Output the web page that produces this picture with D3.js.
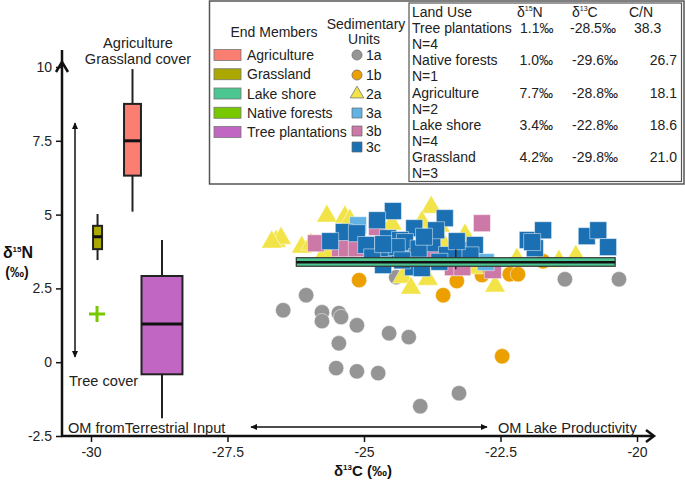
<!DOCTYPE html>
<html><head><meta charset="utf-8">
<script src="https://cdn.jsdelivr.net/npm/d3@7"></script>
<style>body{margin:0;background:#fff} text{font-family:"Liberation Sans",Arial,sans-serif}</style>
</head><body><svg id="c" width="685" height="483"></svg>
<script>
// ---------- DATA ----------
const xTicks = [-30, -27.5, -25, -22.5, -20];
const yTicks = [-2.5, 0, 2.5, 5, 7.5, 10];

// sedimentary units: [δ13C, δ15N]
const unit1a = [[-26.06,2.27],[-26.48,1.76],[-25.77,1.69],[-25.77,1.39],[-25.46,1.66],[-25.42,1.53],[-25.13,1.25],[-24.54,0.98],[-24.18,0.85],[-25.46,0.64],[-25.51,-0.20],[-25.13,-0.31],[-24.74,-0.37],[-23.26,-1.05],[-23.97,-1.49],[-24.41,2.88],[-21.32,2.81],[-20.33,2.81]];
const unit1b = [[-25.09,2.78],[-23.55,2.27],[-23.30,2.75],[-22.84,2.95],[-22.33,2.98],[-22.18,2.98],[-21.72,3.42],[-22.47,0.20],[-23.39,3.19]];
const unit2a = [[-25.68,4.95],[-25.35,4.92],[-26.61,4.10],[-26.52,4.20],[-26.69,4.07],[-26.14,3.90],[-25.97,4.00],[-25.71,3.73],[-25.26,4.81],[-24.49,4.68],[-23.77,5.25],[-23.94,4.75],[-23.61,4.61],[-23.15,4.31],[-23.53,3.97],[-22.91,3.46],[-23.00,3.19],[-24.29,2.88],[-24.14,2.51],[-23.83,2.81],[-22.60,2.58],[-22.20,3.49],[-21.43,3.42],[-21.12,3.59],[-24.16,3.63]];
const unit3a = [[-25.11,4.64],[-24.84,3.97],[-24.21,3.63],[-22.77,3.39]];
const unit3b = [[-25.88,4.03],[-25.44,3.86],[-25.31,3.86],[-24.76,4.58],[-24.84,3.86],[-25.13,3.86],[-22.84,4.71],[-22.64,3.12],[-23.37,3.22],[-23.20,3.22],[-23.74,3.73]];
const unit3c = [[-24.47,5.12],[-24.76,4.81],[-23.52,4.88],[-24.08,4.54],[-25.37,4.41],[-25.62,4.10],[-25.13,4.37],[-24.56,4.20],[-24.34,4.14],[-24.25,4.07],[-23.75,4.03],[-23.19,3.80],[-22.97,3.97],[-24.58,3.56],[-24.03,3.56],[-23.48,3.63],[-24.10,3.22],[-24.65,3.29],[-22.00,4.14],[-21.72,4.47],[-21.87,3.86],[-20.92,4.27],[-20.71,4.47],[-20.53,3.90],[-23.94,3.19],[-24.96,3.97],[-21.92,4.07],[-23.68,4.47],[-24.40,3.90],[-24.00,3.85],[-23.90,4.25],[-24.85,3.55],[-23.62,3.40],[-24.30,3.45],[-23.05,3.62],[-24.65,4.00],[-23.30,4.10]];

// end members
const endMembers = ["Agriculture","Grassland","Lake shore","Native forests","Tree plantations"];
const boxNames  = ["Agriculture","Grassland","Tree plantations","Lake shore"];
const boxCenter = [-29.24, -29.88, -28.70, -23.32];
const boxMin    = [5.10, 3.46, -1.90, 3.15];
const boxQ1     = [6.32, 3.83, -0.41, 3.25];
const boxMedian = [7.50, 4.25, 1.29, 3.39];
const boxQ3     = [8.75, 4.62, 2.92, 3.54];
const boxMax    = [9.93, 5.02, 4.14, 3.82];
const nativeForest = [[-29.89, 1.63]];

// table
const tableHeader = ["Land Use", "δ15N", "δ13C", "C/N"];
const landUse = ["Tree plantations","Native forests","Agriculture","Lake shore","Grassland"];
const tabN15  = ["1.1‰","1.0‰","7.7‰","3.4‰","4.2‰"];
const tabC13  = ["-28.5‰","-29.6‰","-28.8‰","-22.8‰","-29.8‰"];
const tabCN   = ["38.3","26.7","18.1","18.6","21.0"];
const tabN    = [4, 1, 2, 4, 3];
const unitNames = ["1a","1b","2a","3a","3b","3c"];

// ---------- STYLE ----------
const emColor = {"Agriculture":"#FA7F72","Grassland":"#ABA800","Lake shore":"#4CC690","Native forests":"#78C800","Tree plantations":"#C266C4"};
const boxWidth = {"Agriculture":0.31,"Grassland":0.165,"Tree plantations":0.75,"Lake shore":5.84};
const unitStyle = {
  "1a":{c:"#959595",s:"circle"}, "1b":{c:"#EBA000",s:"circle"}, "2a":{c:"#F2E448",s:"triangle"},
  "3a":{c:"#62B3E3",s:"square"}, "3b":{c:"#CC79A7",s:"square"}, "3c":{c:"#1A70B2",s:"square"}
};
const symSize = {circle:186, triangle:185, square:289};
const symType = {circle:d3.symbolCircle, triangle:d3.symbolTriangle, square:d3.symbolSquare};

const svg = d3.select("#c");
const x = d3.scaleLinear().domain([-30,-20]).range([91,637]);
const y = d3.scaleLinear().domain([-2.5,10]).range([436,67]);
const axisX0 = 62;

// defs arrow markers
const defs = svg.append("defs");
defs.append("marker").attr("id","ah").attr("viewBox","0 0 10 10").attr("refX",9).attr("refY",5)
  .attr("markerWidth",7).attr("markerHeight",7).attr("orient","auto-start-reverse").attr("markerUnits","userSpaceOnUse")
  .append("path").attr("d","M0,0.5L10,5L0,9.5z").attr("fill","#111");

// ---------- AXES ----------
const gx = svg.append("g").attr("transform",`translate(0,${y(-2.5)})`)
  .call(d3.axisBottom(x).tickValues(xTicks).tickSize(6).tickPadding(5).tickFormat(d=>String(d)));
gx.select(".domain").remove();
gx.selectAll(".tick line").attr("stroke","#111").attr("stroke-width",1.5);
gx.selectAll(".tick text").attr("font-size",14).attr("fill","#222").attr("font-family","Liberation Sans, Arial, sans-serif");

const gy = svg.append("g").attr("transform",`translate(${axisX0},0)`)
  .call(d3.axisLeft(y).tickValues(yTicks).tickSize(6).tickPadding(4).tickFormat(d=>String(d)));
gy.select(".domain").remove();
gy.selectAll(".tick line").attr("stroke","#111").attr("stroke-width",1.5);
gy.selectAll(".tick text").attr("font-size",14).attr("fill","#222").attr("font-family","Liberation Sans, Arial, sans-serif");

// axis lines with arrows
svg.append("line").attr("x1",axisX0).attr("x2",axisX0).attr("y1",y(-2.5)+1).attr("y2",50)
  .attr("stroke","#111").attr("stroke-width",2.5);
svg.append("path").attr("d",`M${axisX0-6},${y(10)+5}L${axisX0},${y(10)-5}L${axisX0+6},${y(10)+5}`)
  .attr("fill","none").attr("stroke","#111").attr("stroke-width",2.5);
svg.append("line").attr("x1",axisX0-1).attr("x2",653).attr("y1",y(-2.5)).attr("y2",y(-2.5))
  .attr("stroke","#111").attr("stroke-width",2.5);
svg.append("path").attr("d",`M646,${y(-2.5)-6}L654,${y(-2.5)}L646,${y(-2.5)+6}`)
  .attr("fill","none").attr("stroke","#111").attr("stroke-width",2.5);

// axis titles
const t1 = svg.append("text").attr("x",363).attr("y",476).attr("text-anchor","middle").attr("font-size",15).attr("font-weight","bold").attr("fill","#111");
t1.append("tspan").text("δ");
t1.append("tspan").text("13").attr("font-size",8).attr("dy",-6);
t1.append("tspan").text("C (‰)").attr("dy",6);
const t2 = svg.append("text").attr("x",18).attr("y",258).attr("text-anchor","middle").attr("font-size",16).attr("font-weight","bold").attr("fill","#111");
t2.append("tspan").text("δ");
t2.append("tspan").text("15").attr("font-size",8).attr("dy",-6);
t2.append("tspan").text("N").attr("dy",6);
svg.append("text").attr("x",17).attr("y",277).attr("text-anchor","middle").attr("font-size",14).attr("font-weight","bold").attr("fill","#111").text("(‰)");

// ---------- END MEMBER BOXES ----------
const boxes = boxNames.map((n,i)=>({n, c:boxCenter[i], min:boxMin[i], q1:boxQ1[i], med:boxMedian[i], q3:boxQ3[i], max:boxMax[i]}));
function drawBox(g, b){
  const w = x(b.c + boxWidth[b.n]/2) - x(b.c - boxWidth[b.n]/2);
  const cx = x(b.c);
  g.append("line").attr("x1",cx).attr("x2",cx).attr("y1",y(b.max)).attr("y2",y(b.min)).attr("stroke","#222").attr("stroke-width",2);
  g.append("rect").attr("x",cx-w/2).attr("width",w).attr("y",y(b.q3)).attr("height",y(b.q1)-y(b.q3))
    .attr("fill",emColor[b.n]).attr("stroke","#222").attr("stroke-width",2);
  g.append("line").attr("x1",cx-w/2).attr("x2",cx+w/2).attr("y1",y(b.med)).attr("y2",y(b.med)).attr("stroke","#111").attr("stroke-width",3);
}
const gBoxes = svg.append("g");
boxes.filter(b=>b.n!=="Lake shore").forEach(b=>drawBox(gBoxes,b));
nativeForest.forEach(p=>{
  const cx=x(p[0]), cy=y(p[1]);
  svg.append("path").attr("d",`M${cx-8},${cy}H${cx+8}M${cx},${cy-8}V${cy+8}`).attr("stroke",emColor["Native forests"]).attr("stroke-width",3);
});

// ---------- SCATTER ----------
const units = {"1a":unit1a,"1b":unit1b,"2a":unit2a,"3b":unit3b,"3a":unit3a,"3c":unit3c};
const gPts = svg.append("g");
["1a","1b","2a","3b","3a","3c"].forEach(u=>{
  const st = unitStyle[u];
  gPts.append("g").selectAll("path").data(units[u]).join("path")
    .attr("transform",d=>`translate(${x(d[0])},${y(d[1])})`)
    .attr("d",d3.symbol().type(symType[st.s]).size(symSize[st.s]))
    .attr("fill",st.c).attr("stroke","#fff").attr("stroke-width",0.8).attr("stroke-opacity",0.6);
});
// lake shore box on top
boxes.filter(b=>b.n==="Lake shore").forEach(b=>{
  const g = svg.append("g");
  const w = x(b.c + boxWidth[b.n]/2) - x(b.c - boxWidth[b.n]/2);
  const cx = x(b.c);
  g.append("line").attr("x1",cx).attr("x2",cx).attr("y1",y(b.max)).attr("y2",y(b.min)).attr("stroke","#222").attr("stroke-width",1.5);
  g.append("rect").attr("x",cx-w/2).attr("width",w).attr("y",y(b.q3)).attr("height",y(b.q1)-y(b.q3))
    .attr("fill",emColor[b.n]).attr("stroke","#333").attr("stroke-width",1.2);
  g.append("line").attr("x1",cx-w/2).attr("x2",cx+w/2).attr("y1",y(b.med)).attr("y2",y(b.med)).attr("stroke","#111").attr("stroke-width",2.5);
});

// ---------- ANNOTATIONS ----------
const ann = svg.append("g").attr("font-size",14.6).attr("fill","#222");
ann.append("text").attr("x",138).attr("y",48).attr("text-anchor","middle").text("Agriculture");
ann.append("text").attr("x",138).attr("y",64).attr("text-anchor","middle").text("Grassland cover");
ann.append("text").attr("x",69).attr("y",386).text("Tree cover");
ann.append("text").attr("x",68).attr("y",433).text("OM fromTerrestrial Input");
ann.append("text").attr("x",498).attr("y",433).text("OM Lake Productivity");
svg.append("line").attr("x1",75).attr("x2",75).attr("y1",123).attr("y2",357)
  .attr("stroke","#111").attr("stroke-width",1.5).attr("marker-start","url(#ah)").attr("marker-end","url(#ah)");
svg.append("line").attr("x1",251).attr("x2",487).attr("y1",427).attr("y2",427)
  .attr("stroke","#111").attr("stroke-width",1.5).attr("marker-start","url(#ah)").attr("marker-end","url(#ah)");

// ---------- LEGEND ----------
const lg = svg.append("g").attr("font-size",14).attr("fill","#222");
lg.append("rect").attr("x",209.5).attr("y",1).attr("width",474.5).attr("height",183).attr("fill","#fff").attr("stroke","#555").attr("stroke-width",1.5);
lg.append("text").attr("x",274).attr("y",37).attr("text-anchor","middle").text("End Members");
endMembers.forEach((n,i)=>{
  const cy = 55 + i*19.25;
  lg.append("rect").attr("x",214).attr("y",cy-5.5).attr("width",27).attr("height",11).attr("fill",emColor[n]).attr("stroke","#777").attr("stroke-width",0.8);
  lg.append("text").attr("x",247).attr("y",cy+5).text(n);
});
lg.append("text").attr("x",366).attr("y",29).attr("text-anchor","middle").text("Sedimentary");
lg.append("text").attr("x",364).attr("y",44).attr("text-anchor","middle").text("Units");
const unitRowY = [55,75,94,113,131,147];
const legSym = {circle:80, triangle:80, square:100};
unitNames.forEach((u,i)=>{
  const st = unitStyle[u];
  lg.append("path").attr("transform",`translate(357,${unitRowY[i]})`)
    .attr("d",d3.symbol().type(symType[st.s]).size(legSym[st.s]))
    .attr("fill",st.c).attr("stroke","#666").attr("stroke-width",0.7);
  lg.append("text").attr("x",366).attr("y",unitRowY[i]+5).text(u);
});

// ---------- TABLE ----------
const tb = svg.append("g").attr("font-size",14).attr("fill","#222");
tb.append("rect").attr("x",409).attr("y",3).attr("width",272.5).attr("height",178.5).attr("fill","none").attr("stroke","#555").attr("stroke-width",1.2);
function supText(g, xx, yy, base, sup, rest){
  const t = g.append("text").attr("x",xx).attr("y",yy);
  t.append("tspan").text(base);
  t.append("tspan").text(sup).attr("font-size",7).attr("dy",-6);
  t.append("tspan").text(rest).attr("dy",6);
}
tb.append("text").attr("x",412).attr("y",17).text(tableHeader[0]);
supText(tb,517,17,tableHeader[1].slice(0,1),tableHeader[1].slice(1,3),tableHeader[1].slice(3));
supText(tb,572,17,tableHeader[2].slice(0,1),tableHeader[2].slice(1,3),tableHeader[2].slice(3));
tb.append("text").attr("x",629).attr("y",17).text(tableHeader[3]);
landUse.forEach((n,i)=>{
  const by = 33 + i*32.25;
  tb.append("text").attr("x",412).attr("y",by).text(n);
  tb.append("text").attr("x",412).attr("y",by+16).text("N=" + tabN[i]);
  if(i===0){
    tb.append("text").attr("x",520).attr("y",by).text(tabN15[i]);
    tb.append("text").attr("x",570).attr("y",by).text(tabC13[i]);
    tb.append("text").attr("x",634).attr("y",by).text(tabCN[i]);
  } else {
    tb.append("text").attr("x",553).attr("y",by).attr("text-anchor","end").text(tabN15[i]);
    tb.append("text").attr("x",618).attr("y",by).attr("text-anchor","end").text(tabC13[i]);
    tb.append("text").attr("x",677).attr("y",by).attr("text-anchor","end").text(tabCN[i]);
  }
});
</script></body></html>
